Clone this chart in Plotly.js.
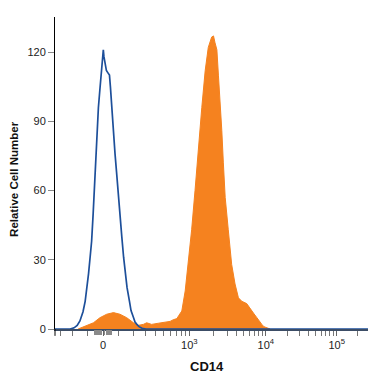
<!DOCTYPE html>
<html>
<head>
<meta charset="utf-8">
<script src="https://cdn.plot.ly/plotly-3.0.1.min.js"></script>
<style>html,body{margin:0;padding:0;background:#fff;}#chart{width:375px;height:375px;}</style>
</head>
<body>
<div id="chart"></div>
<script>
// Histogram channels (0-1023 logicle display scale) and relative cell counts
const isotypeChannels = [13, 62, 75, 85, 94, 104, 111, 117, 122, 127, 132, 137, 143, 148, 154, 159, 164, 167, 170, 172, 176, 180, 185, 190, 193, 197, 202, 208, 213, 219, 224, 230, 236, 241, 247, 255, 260, 268, 273, 279, 286, 296, 309, 1030];
const isotypeCounts = [0, 0, 0.5, 1.5, 3.5, 7.5, 12, 18, 24, 31, 38, 50, 67, 80, 96, 104, 112, 117, 121, 118, 114, 112, 111, 110, 105, 96, 88, 76, 68, 57, 48, 40, 31, 25, 18, 12, 8, 5, 3, 2, 1, 0.3, 0, 0];

const cd14Channels = [88, 104, 116, 138, 159, 181, 203, 224, 246, 268, 284, 300, 311, 327, 349, 376, 387, 397, 409, 416, 425, 436, 446, 457, 468, 479, 490, 501, 511, 522, 528, 533, 539, 544, 549, 555, 560, 566, 576, 587, 598, 609, 620, 627, 636, 644, 652, 660, 669, 676, 685, 692, 701, 712];
const cd14Counts = [0, 0.8, 1.6, 2.7, 4.9, 6.4, 7.1, 6.4, 4.9, 2.7, 1.6, 2.0, 2.7, 2.0, 2.5, 3, 3.3, 4, 4.5, 6, 7.8, 16.5, 28, 43, 60, 79, 96, 112, 122, 126.5, 127, 124, 121, 110, 100, 86, 72, 57, 43, 28, 19.5, 13.5, 12, 11.5, 11, 9.5, 7.8, 6.5, 4.9, 3.5, 2, 1, 0.4, 0];

// Axis ticks (fluorescence values)
const majorTickValues = [0, 1000, 10000, 100000];
const majorTickLabels = ['0', '10<sup>3</sup>', '10<sup>4</sup>', '10<sup>5</sup>'];
const minorTickValues = [-300, -200, -100, 100, 200, 300, 400, 500, 600, 700, 800, 900,
  2000, 3000, 4000, 5000, 6000, 7000, 8000, 9000,
  20000, 30000, 40000, 50000, 60000, 70000, 80000, 90000, 200000];
const linearTickValues = [-50, -40, -30, -20, -10, 10, 20, 30, 40, 50];
const yTickValues = [0, 30, 60, 90, 120];

// Logicle transform: value -> display channel (0..1024)
const T = 262144, M = 4.5, W = 0.743;
const m = M * Math.LN10, w = W * Math.LN10;
function solveP() {
  let lo = 1.0001, hi = 50;
  for (let i = 0; i < 100; i++) {
    const mid = (lo + hi) / 2;
    const f = 2 * mid * Math.log(mid) / (mid + 1);
    if (f > w) hi = mid; else lo = mid;
  }
  return (lo + hi) / 2;
}
const p = solveP();
function S(x) {
  if (x < w) return -S(2 * w - x);
  return T * Math.exp(-(m - w)) * (Math.exp(x - w) - p * p * Math.exp(-(x - w) / p) + p * p - 1);
}
function toChannel(v) {
  let lo = -m, hi = 1.5 * m;
  for (let i = 0; i < 200; i++) {
    const mid = (lo + hi) / 2;
    if (S(mid) > v) hi = mid; else lo = mid;
  }
  return (lo + hi) / 2 / m * 1024;
}

const xRange = [13, 1030];
const fontFamily = 'Liberation Sans, Arial, sans-serif';

const traces = [
  {
    x: cd14Channels, y: cd14Counts, type: 'scatter', mode: 'lines',
    fill: 'tozeroy', fillcolor: '#f5821f',
    line: {color: '#f5821f', width: 1}, hoverinfo: 'skip'
  },
  {
    x: isotypeChannels, y: isotypeCounts, type: 'scatter', mode: 'lines',
    line: {color: '#1d4f9a', width: 1.7}, hoverinfo: 'skip'
  },
  { x: [], y: [], type: 'scatter', mode: 'lines', xaxis: 'x2', yaxis: 'y', hoverinfo: 'skip' }
];

const layout = {
  width: 375, height: 375,
  margin: {l: 55, r: 7, t: 17, b: 46},
  paper_bgcolor: '#fff', plot_bgcolor: '#fff',
  showlegend: false, hovermode: false,
  font: {family: fontFamily, size: 11, color: '#222'},
  xaxis: {
    range: xRange, showgrid: false, zeroline: false,
    showline: true, linecolor: '#3c4d66', linewidth: 1.5,
    tickmode: 'array', tickvals: majorTickValues.map(toChannel), ticktext: majorTickLabels,
    ticks: 'outside', ticklen: 5, tickwidth: 1, tickcolor: '#666',
    tickfont: {family: fontFamily, size: 11, color: '#222'},
    minor: {tickmode: 'array', tickvals: minorTickValues.map(toChannel), ticks: 'outside', ticklen: 5, tickwidth: 1, tickcolor: '#777', showgrid: false}
  },
  xaxis2: {
    overlaying: 'x', anchor: 'y', side: 'bottom',
    range: xRange, showgrid: false, zeroline: false, showline: false,
    tickmode: 'array', tickvals: linearTickValues.map(toChannel),
    ticks: 'outside', ticklen: 5, tickwidth: 1.5, tickcolor: '#8a8a8a',
    showticklabels: false
  },
  yaxis: {
    range: [0, 135.2], showgrid: false, zeroline: false,
    showline: true, linecolor: '#000', linewidth: 1,
    tickmode: 'array', tickvals: yTickValues,
    ticks: 'outside', ticklen: 6, tickwidth: 1, tickcolor: '#888',
    tickfont: {family: fontFamily, size: 11, color: '#222'}
  },
  shapes: [
    {type: 'line', xref: 'paper', yref: 'paper', x0: 0, x1: 0, y0: 0, y1: -0.022, line: {color: '#000', width: 1}}
  ],
  annotations: [
    {text: '<b>Relative Cell Number</b>', xref: 'paper', yref: 'paper', x: -0.131, y: 0.481,
     textangle: -90, showarrow: false, xanchor: 'center', yanchor: 'middle',
     font: {family: fontFamily, size: 11.5, color: '#111'}},
    {text: '<b>CD14</b>', xref: 'paper', yref: 'paper', x: 0.486, y: -0.119,
     showarrow: false, xanchor: 'center', yanchor: 'middle',
     font: {family: fontFamily, size: 13, color: '#111'}}
  ]
};

Plotly.newPlot('chart', traces, layout, {staticPlot: true, displayModeBar: false});
</script>
</body>
</html>
